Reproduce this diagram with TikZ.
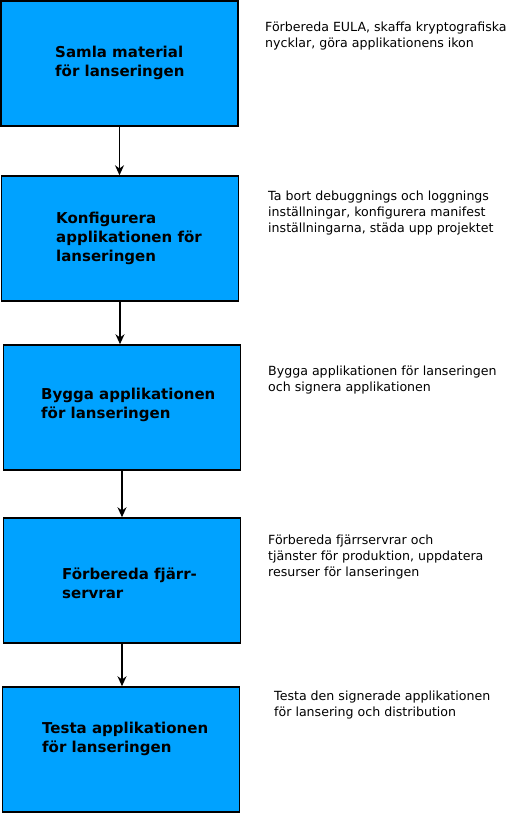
\documentclass[tikz,border=0pt]{standalone}
\usepackage{fontspec}
\setmainfont{DejaVu Sans}
\usetikzlibrary{arrows.meta}
\definecolor{stepblue}{RGB}{0,162,255}
\tikzset{
  stepbox/.style={draw=black, line width=1.5pt, fill=stepblue, minimum width=237pt, minimum height=125pt, inner sep=0pt},
  steptext/.style={anchor=west, align=left, inner sep=0pt, font=\fontsize{15}{19}\selectfont\bfseries},
  notetext/.style={anchor=west, align=left, inner sep=0pt, font=\fontsize{12.6}{16}\selectfont},
  flow/.style={-{Stealth[length=10pt,width=9pt]}, line width=1.4pt}
}
\begin{document}
\begin{tikzpicture}[x=1pt,y=-1pt]
\useasboundingbox (0,0) rectangle (517,814);
% steps
\node [stepbox] (samla) at (119.5,63.5) {};
\node [stepbox] (konfig) at (120,238.5) {};
\node [stepbox] (bygga) at (122,407.5) {};
\node [stepbox] (fjarr) at (122,580.5) {};
\node [stepbox] (testa) at (121,749.5) {};
\node [steptext] (samlatxt) at (55,62.5) {Samla material\\för lanseringen};
\node [steptext] (konfigtxt) at (56,238) {Konfigurera\\applikationen för\\lanseringen};
\node [steptext] (byggatxt) at (41,404.5) {Bygga applikationen\\för lanseringen};
\node [steptext] (fjarrtxt) at (62,583) {Förbereda fjärr-\\servrar};
\node [steptext] (testatxt) at (42,739) {Testa applikationen\\för lanseringen};
% notes
\node [notetext] (samlanote) at (265,36) {Förbereda EULA, skaffa kryptografiska\\nycklar, göra applikationens ikon};
\node [notetext] (konfignote) at (268,213) {Ta bort debuggnings och loggnings\\inställningar, konfigurera manifest\\inställningarna, städa upp projektet};
\node [notetext] (bygganote) at (268,380) {Bygga applikationen för lanseringen\\och signera applikationen};
\node [notetext] (fjarrnote) at (268,557) {Förbereda fjärrservrar och\\tjänster för produktion, uppdatera\\resurser för lanseringen};
\node [notetext] (testanote) at (274,705) {Testa den signerade applikationen\\för lansering och distribution};
% arrows
\draw [flow] (samla.south) -- (samla.south |- konfig.north);
\draw [flow] (konfig.south) -- (konfig.south |- bygga.north);
\draw [flow] (bygga.south) -- (bygga.south |- fjarr.north);
\draw [flow] (fjarr.south) -- (fjarr.south |- testa.north);
\end{tikzpicture}
\end{document}
